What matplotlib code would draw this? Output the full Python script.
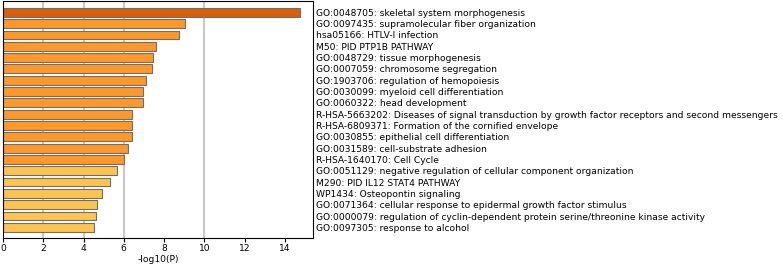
import matplotlib
matplotlib.use("Agg")
import matplotlib.pyplot as plt

terms = [
    "GO:0048705: skeletal system morphogenesis",
    "GO:0097435: supramolecular fiber organization",
    "hsa05166: HTLV-I infection",
    "M50: PID PTP1B PATHWAY",
    "GO:0048729: tissue morphogenesis",
    "GO:0007059: chromosome segregation",
    "GO:1903706: regulation of hemopoiesis",
    "GO:0030099: myeloid cell differentiation",
    "GO:0060322: head development",
    "R-HSA-5663202: Diseases of signal transduction by growth factor receptors and second messengers",
    "R-HSA-6809371: Formation of the cornified envelope",
    "GO:0030855: epithelial cell differentiation",
    "GO:0031589: cell-substrate adhesion",
    "R-HSA-1640170: Cell Cycle",
    "GO:0051129: negative regulation of cellular component organization",
    "M290: PID IL12 STAT4 PATHWAY",
    "WP1434: Osteopontin signaling",
    "GO:0071364: cellular response to epidermal growth factor stimulus",
    "GO:0000079: regulation of cyclin-dependent protein serine/threonine kinase activity",
    "GO:0097305: response to alcohol",
]
logp = [14.73, 9.02, 8.76, 7.58, 7.45, 7.40, 7.10, 6.97, 6.95, 6.43,
        6.40, 6.40, 6.19, 6.02, 5.66, 5.34, 4.93, 4.69, 4.61, 4.51]

def bar_color(v):
    if v > 10:
        return "#d95f0e"
    if v > 6:
        return "#fe9929"
    return "#fec44f"

colors = [bar_color(v) for v in logp]
ypos = list(range(len(terms)))

fig = plt.figure(figsize=(7.83, 2.67), dpi=100)
ax = fig.add_axes([3 / 783, 1 - 237.5 / 267, 310 / 783, 236.5 / 267])

for g in [2, 4, 6, 10]:
    ax.axvline(g, color="#c8c8c8", lw=1.5, zorder=0)

ax.barh(ypos, logp, height=0.78, color=colors, edgecolor="#6e6e6e", linewidth=0.8, zorder=2)

ax.set_xlim(0, 15.4)
ax.set_ylim(19.9, -1.0)
ax.set_xticks([0, 2, 4, 6, 8, 10, 12, 14])
ax.tick_params(axis="x", labelsize=6.6, length=3, pad=2)
ax.yaxis.tick_right()
ax.set_yticks(ypos)
ax.set_yticklabels(terms, fontsize=6.6)
ax.tick_params(axis="y", length=0, pad=2.5)
ax.set_xlabel("-log10(P)", fontsize=6.6, labelpad=1)

fig.savefig("out.png", dpi=100)
